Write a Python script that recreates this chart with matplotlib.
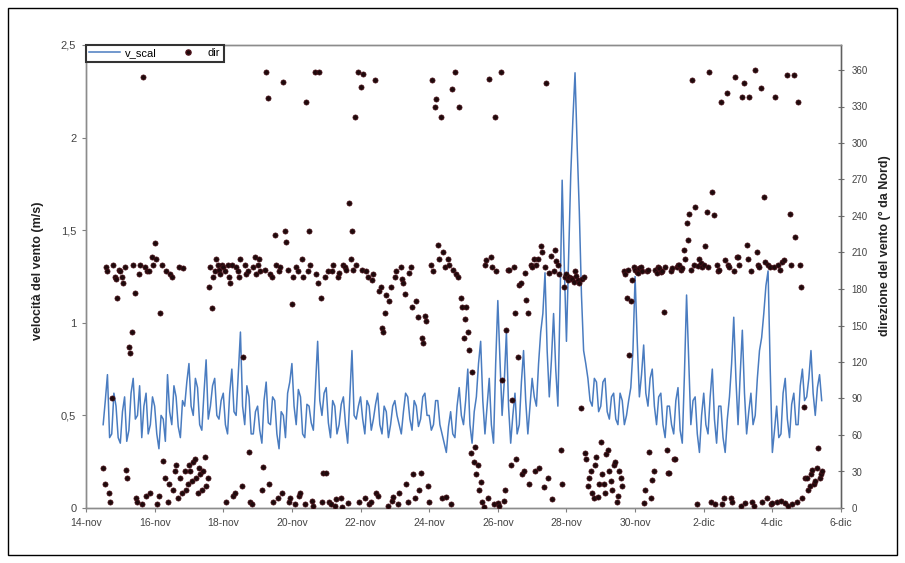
import numpy as np
import matplotlib
matplotlib.use('Agg')
import matplotlib.pyplot as plt
from matplotlib.patches import Rectangle
from matplotlib.lines import Line2D

plt.rcParams['font.family'] = ['Liberation Sans', 'DejaVu Sans']

# Wind speed v_scal (m/s), samples every 3 h starting 14-nov 12:00
speed_by_day = [
    [0.45, 0.72, 0.40, 0.55],
    [0.35, 0.60, 0.42, 0.70, 0.50, 0.38, 0.62, 0.45],
    [0.55, 0.32, 0.48, 0.72, 0.45, 0.60, 0.38, 0.55],
    [0.78, 0.50, 0.65, 0.42, 0.80, 0.55, 0.70, 0.48],
    [0.62, 0.40, 0.75, 0.50, 0.95, 0.45, 0.60, 0.40],
    [0.55, 0.35, 0.68, 0.45, 0.58, 0.32, 0.50, 0.62],
    [0.78, 0.45, 0.60, 0.38, 0.55, 0.42, 0.90, 0.50],
    [0.65, 0.38, 0.55, 0.45, 0.60, 0.35, 0.85, 0.48],
    [0.60, 0.40, 0.55, 0.48, 0.62, 0.40, 0.52, 0.45],
    [0.58, 0.45, 0.52, 0.60, 0.42, 0.55, 0.48, 0.62],
    [0.50, 0.45, 0.58, 0.40, 0.30, 0.52, 0.38, 0.65],
    [0.45, 0.75, 0.35, 0.60, 0.90, 0.40, 0.70, 0.35],
    [1.12, 0.50, 0.95, 0.35, 0.62, 0.45, 0.85, 0.40],
    [0.70, 0.55, 0.95, 1.27, 0.60, 1.05, 0.55, 1.77],
    [0.90, 1.80, 2.35, 1.60, 0.85, 0.70, 0.55, 0.68],
    [0.55, 0.70, 0.48, 0.62, 0.45, 0.58, 0.50, 0.65],
    [1.25, 0.60, 0.88, 0.55, 0.75, 0.45, 0.62, 0.38],
    [0.55, 0.40, 0.65, 0.35, 1.15, 0.45, 0.60, 0.30],
    [0.62, 0.40, 0.75, 0.35, 0.55, 0.30, 0.60, 1.03],
    [0.45, 0.96, 0.40, 0.62, 0.50, 0.85, 1.05, 1.28],
    [0.30, 0.55, 0.40, 0.70, 0.38, 0.62, 0.45, 0.75],
    [0.60, 0.85, 0.50, 0.72],
]

# Wind speed v_scal (m/s), samples 1.5 h after each of the above
speed_half_by_day = [
    [0.58, 0.38, 0.62, 0.38],
    [0.52, 0.36, 0.62, 0.48, 0.66, 0.55, 0.40, 0.60],
    [0.40, 0.50, 0.36, 0.52, 0.66, 0.44, 0.58, 0.68],
    [0.55, 0.70, 0.45, 0.62, 0.48, 0.66, 0.50, 0.58],
    [0.45, 0.62, 0.52, 0.72, 0.55, 0.66, 0.40, 0.52],
    [0.42, 0.58, 0.46, 0.60, 0.40, 0.52, 0.38, 0.68],
    [0.55, 0.64, 0.40, 0.56, 0.46, 0.66, 0.58, 0.62],
    [0.46, 0.58, 0.40, 0.56, 0.45, 0.60, 0.50, 0.55],
    [0.48, 0.58, 0.42, 0.56, 0.45, 0.55, 0.38, 0.55],
    [0.50, 0.40, 0.62, 0.48, 0.58, 0.44, 0.60, 0.50],
    [0.42, 0.58, 0.45, 0.35, 0.44, 0.40, 0.55, 0.50],
    [0.58, 0.45, 0.52, 0.78, 0.58, 0.55, 0.45, 0.78],
    [0.80, 0.68, 0.55, 0.50, 0.40, 0.68, 0.58, 0.55],
    [0.60, 0.78, 1.05, 0.85, 0.80, 0.75, 1.10, 1.30],
    [1.35, 2.10, 1.95, 1.15, 0.78, 0.58, 0.70, 0.52],
    [0.68, 0.52, 0.60, 0.48, 0.62, 0.45, 0.58, 0.85],
    [0.90, 0.72, 0.62, 0.70, 0.55, 0.60, 0.45, 0.55],
    [0.45, 0.58, 0.42, 0.72, 0.80, 0.58, 0.40, 0.50],
    [0.45, 0.60, 0.48, 0.55, 0.38, 0.48, 0.78, 0.70],
    [0.72, 0.62, 0.52, 0.45, 0.70, 0.92, 1.20, 0.75],
    [0.42, 0.38, 0.62, 0.48, 0.56, 0.45, 0.66, 0.58],
    [0.70, 0.62, 0.65, 0.58],
]

# Wind direction dir (degrees from North), even hours starting 14-nov 12:00
dir_even_by_day = [
    [33, 198, 12, 90, 190, 173],
    [195, 185, 31, 132, 145, 177, 5, 200, 354, 10, 195, 206],
    [218, 3, 160, 39, 195, 20, 190, 30, 8, 25, 197, 15],
    [35, 22, 40, 12, 28, 30, 18, 182, 164, 195, 200, 192],
    [198, 5, 190, 200, 12, 195, 205, 124, 192, 46, 3, 206],
    [200, 195, 34, 358, 20, 190, 224, 8, 198, 350, 219, 5],
    [168, 3, 195, 12, 190, 334, 228, 6, 358, 185, 173, 29],
    [29, 5, 195, 2, 190, 8, 200, 196, 251, 228, 321, 358],
    [346, 357, 195, 3, 187, 352, 10, 182, 145, 175, 170, 6],
    [190, 3, 198, 185, 20, 193, 165, 8, 157, 29, 136, 154],
    [5, 352, 330, 216, 321, 210, 9, 200, 344, 358, 190, 173],
    [140, 165, 130, 112, 50, 35, 21, 1, 204, 353, 198, 321],
    [4, 358, 6, 146, 196, 89, 160, 124, 185, 30, 171, 20],
    [198, 30, 205, 215, 17, 349, 193, 7, 212, 200, 48, 182],
    [192, 190, 188, 195, 187, 82, 190, 40, 25, 12, 35, 9],
    [54, 20, 44, 30, 15, 38, 10, 25, 195, 173, 126, 187],
    [196, 193, 198, 4, 195, 46, 23, 196, 198, 194, 161, 48],
    [29, 197, 40, 200, 196, 212, 234, 242, 352, 247, 199, 201],
    [200, 243, 358, 260, 3, 195, 334, 8, 341, 198, 5, 354],
    [206, 2, 349, 216, 338, 5, 360, 200, 345, 256, 8, 198],
    [4, 338, 200, 6, 204, 356, 242, 3, 223, 334, 182, 83],
    [25, 18, 31, 22, 49, 28],
]

# Wind direction dir (degrees from North), odd hours starting 14-nov 13:00
dir_odd_by_day = [
    [20, 195, 5, 200, 188, 196],
    [190, 198, 25, 127, 200, 8, 192, 3, 198, 195, 12, 200],
    [205, 10, 200, 25, 5, 192, 15, 35, 198, 12, 30, 20],
    [30, 38, 25, 33, 15, 42, 25, 198, 190, 205, 196, 200],
    [195, 200, 185, 10, 198, 190, 18, 200, 195, 5, 198, 192],
    [205, 15, 196, 337, 192, 5, 200, 195, 12, 228, 196, 8],
    [190, 198, 10, 205, 3, 195, 200, 2, 192, 358, 5, 190],
    [195, 3, 200, 7, 193, 1, 198, 4, 205, 196, 200, 5],
    [196, 8, 190, 5, 192, 12, 178, 148, 160, 2, 182, 9],
    [195, 12, 188, 176, 5, 198, 28, 170, 15, 140, 158, 18],
    [200, 195, 336, 205, 8, 198, 205, 3, 196, 192, 330, 165],
    [155, 145, 45, 38, 28, 15, 5, 200, 8, 206, 3, 195],
    [2, 105, 15, 196, 35, 198, 40, 183, 28, 193, 160, 200],
    [205, 200, 33, 210, 198, 25, 207, 195, 203, 192, 20, 190],
    [187, 189, 186, 191, 185, 188, 45, 18, 30, 8, 42, 20],
    [28, 12, 48, 22, 35, 5, 30, 18, 192, 196, 170, 198],
    [194, 197, 195, 15, 196, 8, 30, 193, 197, 195, 198, 29],
    [195, 40, 198, 200, 197, 205, 220, 196, 200, 3, 205, 198],
    [215, 198, 5, 241, 200, 196, 3, 204, 200, 8, 195, 206],
    [200, 338, 4, 205, 195, 2, 210, 198, 5, 202, 200, 3],
    [198, 5, 196, 202, 4, 2, 200, 356, 5, 200, 8, 25],
    [15, 28, 20, 33, 25, 30],
]

x_tick_days = list(range(0, 23, 2))
x_tick_labels = ['14-nov', '16-nov', '18-nov', '20-nov', '22-nov', '24-nov',
                 '26-nov', '28-nov', '30-nov', '2-dic', '4-dic', '6-dic']
speed_ticks = [0, 0.5, 1, 1.5, 2, 2.5]
speed_tick_labels = ['0', '0,5', '1', '1,5', '2', '2,5']
dir_ticks = list(range(0, 361, 30))


def flat(days):
    return np.concatenate([np.array(d, dtype=float) for d in days])


start = 0.5  # 14-nov 12:00, in days since 14-nov 00:00
s_main = flat(speed_by_day)
s_half = flat(speed_half_by_day)
speed = np.empty(s_main.size + s_half.size)
speed[0::2] = s_main
speed[1::2] = s_half
t_speed = start + np.arange(speed.size) * 1.5 / 24

d_even = flat(dir_even_by_day)
d_odd = flat(dir_odd_by_day)
direction = np.empty(d_even.size + d_odd.size)
direction[0::2] = d_even
direction[1::2] = d_odd
t_dir = start + np.arange(direction.size) * 1.0 / 24

W, H = 905, 563
fig = plt.figure(figsize=(W / 100, H / 100), dpi=100)
fig.patch.set_facecolor('white')
fig.patches.append(Rectangle((8 / W, 1 - 555 / H), (897 - 8) / W, (555 - 8) / H,
                             transform=fig.transFigure, fill=False,
                             edgecolor='black', linewidth=1.0))

L, R, T, B = 86, 841, 45, 508
ax = fig.add_axes([L / W, 1 - B / H, (R - L) / W, (B - T) / H])
ax2 = ax.twinx()

line_color = '#4a7cc0'
dot_color = '#1e0a0c'
dot_edge = '#4a1018'

ax.plot(t_speed, speed, color=line_color, linewidth=1.1, zorder=2)
ax2.plot(t_dir, direction, linestyle='none', marker='o', markersize=3.7,
         markerfacecolor=dot_color, markeredgecolor=dot_edge,
         markeredgewidth=0.5, zorder=3)

ax.set_xlim(0, 22)
ax.set_ylim(0, 2.5)
ax2.set_ylim(0, 360 * (B - T) / (B - 70))

ax.set_xticks(x_tick_days)
ax.set_xticklabels(x_tick_labels)
ax.set_yticks(speed_ticks)
ax.set_yticklabels(speed_tick_labels)
ax2.set_yticks(dir_ticks)

tick_color = '#444444'
ax.tick_params(axis='x', direction='out', length=3, width=0.8, colors='#808080',
               labelcolor=tick_color, labelsize=7.5, pad=4)
ax.tick_params(axis='y', direction='out', length=3, width=0.8, colors='#808080',
               labelcolor=tick_color, labelsize=8, pad=4)
ax2.tick_params(axis='y', direction='inout', length=5, width=0.8, colors='#707070',
                labelcolor=tick_color, labelsize=7, pad=5)

for a in (ax, ax2):
    for s in a.spines.values():
        s.set_color('#8c8c8c')
        s.set_linewidth(1.0)
ax2.spines['right'].set_color('#606060')

fig.text(38 / W, 1 - 271 / H, 'velocità del vento (m/s)', rotation=90,
         ha='center', va='center', fontsize=9, fontweight='bold', color='#222222')
fig.text(885 / W, 1 - 246 / H, 'direzione del vento (° da Nord)', rotation=90,
         ha='center', va='center', fontsize=9, fontweight='bold', color='#222222')

handles = [Line2D([], [], color=line_color, linewidth=1.1),
           Line2D([], [], linestyle='none', marker='o', markersize=3.7,
                  markerfacecolor=dot_color, markeredgecolor=dot_edge)]
leg = ax2.legend(handles, ['v_scal', 'dir'], loc='upper left',
                 bbox_to_anchor=(0, 1), borderaxespad=0, ncol=2,
                 fontsize=8, frameon=True, fancybox=False, framealpha=1,
                 edgecolor='#333333', handlelength=2.8, handletextpad=0.4,
                 columnspacing=1.4, borderpad=0.3)
leg.get_frame().set_linewidth(1.5)

fig.savefig('out.png', dpi=100)
